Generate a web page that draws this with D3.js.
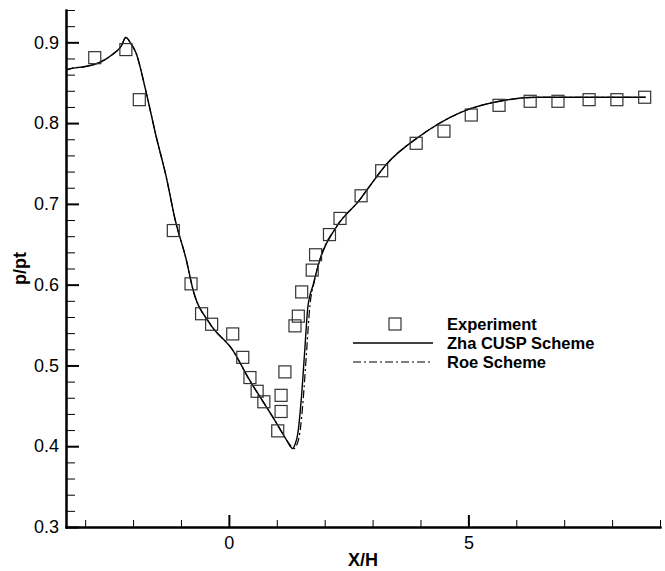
<!DOCTYPE html>
<meta charset="utf-8">
<style>
body { margin: 0; background: #fff; }
text { font-family: Arial, "Liberation Sans", sans-serif; fill: #000; }
.axis path { stroke: #000; stroke-width: 2; stroke-linecap: square; }
.axis.major line { stroke: #000; stroke-width: 2; }
.axis.minor line { stroke: #000; stroke-width: 1; }
.tick text { font-size: 18px; }
.ttl { font-size: 18px; font-weight: bold; }
.leg { font-size: 16.5px; font-weight: bold; }
</style>
<svg width="665" height="571"></svg>
<script src="https://d3js.org/d3.v7.min.js"></script>
<script>

// experiment (squares)
var expX = [-2.80, -2.15, -1.87, -1.16, -0.79, -0.57, -0.36, 0.08, 0.29, 0.44, 0.59, 0.73,
            1.02, 1.09, 1.09, 1.17, 1.38, 1.45, 1.52, 1.74, 1.81, 2.10, 2.32, 2.76,
            3.19, 3.91, 4.49, 5.06, 5.64, 6.29, 6.87, 7.52, 8.10, 8.68];
var expY = [0.881, 0.891, 0.829, 0.667, 0.601, 0.564, 0.551, 0.539, 0.510, 0.485, 0.468, 0.455,
            0.419, 0.443, 0.463, 0.492, 0.549, 0.561, 0.591, 0.618, 0.637, 0.662, 0.682, 0.710,
            0.741, 0.775, 0.790, 0.810, 0.822, 0.827, 0.827, 0.829, 0.829, 0.832];

// Zha CUSP scheme (solid)
var zhaX = [-3.40, -3.26, -3.00, -2.70, -2.43, -2.25, -2.15, -2.05, -1.94, -1.73, -1.52, -1.31, -1.12,
            -0.89, -0.75, -0.40, 0.08, 0.43, 0.78, 1.00, 1.20, 1.28, 1.33, 1.38, 1.44, 1.51, 1.58, 1.65,
            1.76, 1.90, 2.25, 2.73, 2.94, 3.29, 3.99, 4.83, 5.73, 6.43, 7.50, 8.70];
var zhaY = [0.866, 0.868, 0.870, 0.875, 0.885, 0.895, 0.906, 0.899, 0.887, 0.839, 0.784, 0.734, 0.680,
            0.631, 0.594, 0.552, 0.519, 0.482, 0.449, 0.428, 0.408, 0.400, 0.397, 0.402, 0.416, 0.457, 0.515, 0.573,
            0.600, 0.631, 0.672, 0.705, 0.722, 0.749, 0.784, 0.813, 0.828, 0.832, 0.832, 0.832];

// Roe scheme (dash-dot)
var roeX = [-3.40, -3.26, -3.00, -2.70, -2.43, -2.25, -2.15, -2.05, -1.94, -1.73, -1.52, -1.31, -1.12,
            -0.89, -0.75, -0.40, 0.08, 0.43, 0.78, 1.00, 1.20, 1.30, 1.36, 1.42, 1.48, 1.55, 1.62, 1.69,
            1.78, 1.90, 2.25, 2.73, 2.94, 3.29, 3.99, 4.83, 5.73, 6.43, 7.50, 8.70];
var roeY = [0.866, 0.868, 0.870, 0.875, 0.885, 0.895, 0.906, 0.899, 0.887, 0.839, 0.784, 0.734, 0.680,
            0.631, 0.594, 0.552, 0.519, 0.482, 0.449, 0.428, 0.408, 0.400, 0.397, 0.402, 0.416, 0.457, 0.515, 0.573,
            0.603, 0.631, 0.672, 0.705, 0.722, 0.749, 0.784, 0.813, 0.828, 0.832, 0.832, 0.832];

var xMajor = [0, 5],
    xMinor = [-3, -2, -1, 1, 2, 3, 4, 6, 7, 8, 9],
    yMajor = [0.3, 0.4, 0.5, 0.6, 0.7, 0.8, 0.9],
    yMinor = d3.range(0.32, 0.945, 0.02).filter(function(v) { return Math.abs(v * 10 - Math.round(v * 10)) > 0.01; });

var legendNames = ["Experiment", "Zha CUSP Scheme", "Roe Scheme"];

var svg = d3.select("svg"),
    mLeft = 66, mRight = 660, mTop = 10, mBottom = 527;

var x = d3.scaleLinear().domain([-3.4, 9]).range([mLeft, mRight]),
    y = d3.scaleLinear().domain([0.3, 0.94]).range([mBottom, mTop]);

// axes: ticks point inward
svg.append("g").attr("class", "axis minor")
    .attr("transform", "translate(0," + mBottom + ")")
    .call(d3.axisBottom(x).tickValues(xMinor).tickSizeInner(-7).tickSizeOuter(0).tickFormat(""));
svg.append("g").attr("class", "axis major")
    .attr("transform", "translate(0," + mBottom + ")")
    .call(d3.axisBottom(x).tickValues(xMajor).tickSizeInner(-12).tickSizeOuter(0).tickPadding(9).tickFormat(d3.format("d")));

svg.append("g").attr("class", "axis minor")
    .attr("transform", "translate(" + mLeft + ",0)")
    .call(d3.axisLeft(y).tickValues(yMinor).tickSizeInner(-9).tickSizeOuter(0).tickFormat(""));
svg.append("g").attr("class", "axis major")
    .attr("transform", "translate(" + mLeft + ",0)")
    .call(d3.axisLeft(y).tickValues(yMajor).tickSizeInner(-13).tickSizeOuter(0).tickPadding(7).tickFormat(d3.format(".1f")));

svg.append("text").attr("class", "ttl")
    .attr("x", (mLeft + mRight) / 2).attr("y", 566)
    .attr("text-anchor", "middle").text("X/H");

svg.append("text").attr("class", "ttl")
    .attr("transform", "translate(26," + (mTop + mBottom) / 2 + ") rotate(-90)")
    .attr("text-anchor", "middle").text("p/pt");

var line = d3.line()
    .x(function(d) { return x(d[0]); })
    .y(function(d) { return y(d[1]); })
    .curve(d3.curveMonotoneX);

svg.append("path")
    .datum(d3.zip(roeX, roeY))
    .attr("fill", "none").attr("stroke", "#000").attr("stroke-width", 1.2)
    .attr("stroke-dasharray", "8,3,2,3")
    .attr("d", line);

svg.append("path")
    .datum(d3.zip(zhaX, zhaY))
    .attr("fill", "none").attr("stroke", "#000").attr("stroke-width", 1.4)
    .attr("d", line);

svg.selectAll(".sq")
    .data(d3.zip(expX, expY))
    .enter().append("rect")
    .attr("class", "sq")
    .attr("x", function(d) { return x(d[0]) - 6; })
    .attr("y", function(d) { return y(d[1]) - 6; })
    .attr("width", 12).attr("height", 12)
    .attr("fill", "none").attr("stroke", "#333").attr("stroke-width", 1.2);

// legend
var lg = svg.append("g");
lg.append("rect").attr("x", 389).attr("y", 318).attr("width", 12).attr("height", 12)
    .attr("fill", "none").attr("stroke", "#333").attr("stroke-width", 1.2);
lg.append("line").attr("x1", 353).attr("x2", 433).attr("y1", 343).attr("y2", 343)
    .attr("stroke", "#000").attr("stroke-width", 1.4);
lg.append("line").attr("x1", 353).attr("x2", 433).attr("y1", 362).attr("y2", 362)
    .attr("stroke", "#000").attr("stroke-width", 1.2).attr("stroke-dasharray", "8,3,2,3");
lg.selectAll("text").data(legendNames).enter().append("text")
    .attr("class", "leg")
    .attr("x", 447)
    .attr("y", function(d, i) { return 330 + i * 19; })
    .text(function(d) { return d; });

</script>
